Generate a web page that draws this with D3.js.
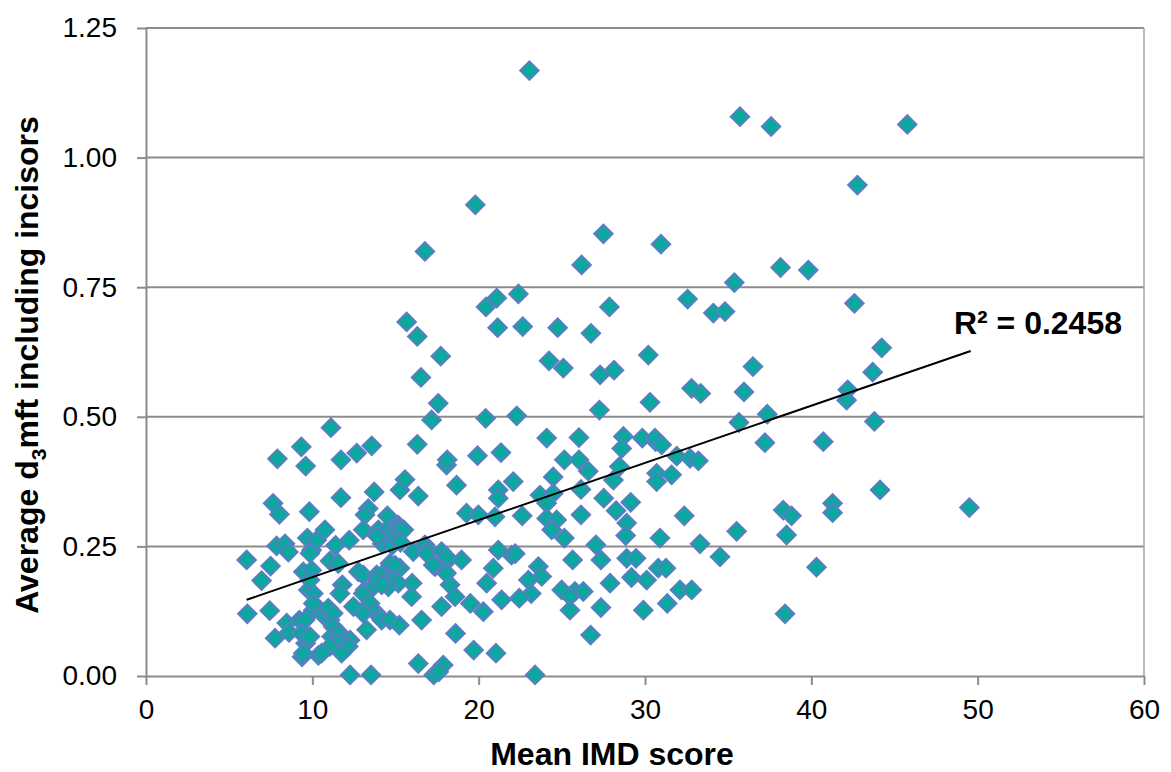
<!DOCTYPE html>
<html>
<head>
<meta charset="utf-8">
<script src="https://cdn.jsdelivr.net/npm/d3@7"></script>
<style>
  body { margin: 0; background: #fff; }
  text { font-family: "Liberation Sans", Arial, sans-serif; }
</style>
</head>
<body>
<script>
'use strict';

// Mean IMD score (x) and average d3mft (y) for each area
const imdScore = [
  9.34, 7.90, 9.60, 7.64, 8.02, 9.82, 7.85, 8.36, 8.56, 6.05, 7.49, 6.95, 6.09, 7.44, 8.46, 8.60,
  7.76, 9.56, 9.60, 9.38, 9.22, 9.70, 9.96, 9.46, 9.76, 10.06, 10.36, 10.26, 9.96, 10.06, 10.46, 9.56,
  9.36, 9.86, 9.46, 10.06, 9.86, 9.86,
  11.12, 13.57, 12.67, 11.72, 13.72, 11.72, 13.36, 13.17, 14.51, 15.27, 15.57, 16.37, 16.31, 15.17,
  13.06, 10.76, 12.22, 13.97, 14.40, 14.80, 15.20, 15.50, 14.10, 14.60, 15.00, 14.20, 14.80, 15.30,
  13.90, 11.40, 11.06, 11.56, 16.07, 16.77, 16.97, 14.67, 15.27, 14.97, 12.77, 13.06, 13.87, 14.17,
  13.87, 14.47, 14.77, 15.17, 16.00, 11.80, 11.66, 13.17, 13.47, 13.06, 14.57, 14.17, 15.97, 12.47,
  13.47, 13.77, 13.06, 14.07, 14.17, 14.67, 15.23, 16.57, 13.26, 10.76, 11.06, 10.96, 11.26, 11.26,
  11.16, 11.66, 11.96, 12.27, 11.46, 11.06, 12.16, 10.56, 11.76, 16.37, 12.27, 13.53,
  17.57, 17.17, 20.42, 19.93, 18.07, 18.11, 18.67, 19.27, 19.98, 16.87, 17.77, 18.17, 18.97, 17.38,
  17.98, 17.27, 18.07, 18.28, 18.58, 19.50, 20.48, 17.77, 20.28, 18.61, 19.70, 17.87, 17.30, 17.60,
  18.07,
  19.80, 16.77, 15.67, 16.31, 17.72, 16.53, 27.50, 30.96, 26.19, 38.15, 39.82, 35.37, 21.09, 22.39,
  20.44, 27.86, 32.56, 34.11, 34.81, 21.14, 22.65, 24.75, 26.75, 30.20, 24.23, 25.09, 27.30, 28.14,
  36.49, 32.80, 33.35, 35.95, 30.30, 23.05, 35.71, 37.58, 45.77, 42.77, 42.59, 44.23, 43.69, 42.19,
  27.26, 22.29, 24.09, 26.03, 28.70, 29.84, 28.60, 30.64, 21.34, 25.15, 26.03, 26.59, 28.46, 28.10,
  24.48, 22.08, 30.70, 30.70, 21.18, 21.18, 26.15, 23.69, 24.48, 24.09, 27.52, 29.14, 28.26, 28.90,
  28.84, 26.15, 22.62, 20.98, 24.09, 24.69, 24.39, 25.15, 30.90, 21.18, 21.98, 22.20, 27.05, 27.35,
  25.65, 28.90, 29.46, 30.80, 20.88, 23.59, 23.79, 22.99, 29.19, 30.10, 27.90, 24.99, 25.79, 26.29,
  23.16, 22.44, 21.38, 25.49, 25.49, 27.35, 29.90, 26.73, 21.04, 23.39,
  35.65, 37.35, 37.21, 40.72, 30.60, 31.00, 31.91, 32.71, 33.21, 31.60, 32.36, 33.31, 35.51, 34.51,
  38.31, 38.81, 38.51, 40.31, 31.26, 32.10, 32.81, 31.34, 38.42,
  42.12, 43.79, 44.13, 41.28, 41.28, 49.50
];

const d3mft = [
  0.442, 0.419, 0.405, 0.333, 0.312, 0.317, 0.251, 0.255, 0.239, 0.224, 0.212, 0.184, 0.120, 0.126, 0.102, 0.084,
  0.073, 0.079, 0.063, 0.037, 0.108, 0.266, 0.243, 0.201, 0.166, 0.127, 0.040, 0.262, 0.204, 0.159, 0.127, 0.108,
  0.082, 0.076, 0.044, 0.140, 0.185, 0.237,
  0.479, 0.444, 0.430, 0.417, 0.355, 0.344, 0.323, 0.311, 0.309, 0.359, 0.379, 0.347, 0.447, 0.291,
  0.282, 0.282, 0.262, 0.282, 0.280, 0.275, 0.285, 0.282, 0.265, 0.268, 0.262, 0.255, 0.252, 0.258,
  0.270, 0.252, 0.222, 0.217, 0.240, 0.253, 0.243, 0.217, 0.208, 0.214, 0.201, 0.195, 0.195, 0.195,
  0.185, 0.182, 0.185, 0.179, 0.179, 0.176, 0.159, 0.166, 0.166, 0.159, 0.172, 0.176, 0.153, 0.134,
  0.140, 0.124, 0.121, 0.114, 0.108, 0.108, 0.098, 0.108, 0.089, 0.114, 0.108, 0.131, 0.121, 0.095,
  0.076, 0.082, 0.069, 0.069, 0.063, 0.057, 0.057, 0.044, 0.044, 0.024, 0.002, 0.002,
  0.526, 0.494, 0.497, 0.425, 0.407, 0.417, 0.368, 0.314, 0.311, 0.237, 0.240, 0.224, 0.224, 0.211,
  0.201, 0.214, 0.230, 0.176, 0.153, 0.140, 0.179, 0.134, 0.124, 0.082, 0.050, 0.021, 0.002, 0.008,
  0.198,
  0.909, 0.819, 0.683, 0.655, 0.617, 0.576, 0.853, 0.833, 0.793, 0.788, 0.783, 0.759, 0.729, 0.737,
  0.712, 0.712, 0.727, 0.700, 0.703, 0.672, 0.674, 0.672, 0.661, 0.619, 0.608, 0.594, 0.581, 0.590,
  0.597, 0.555, 0.545, 0.548, 0.528, 1.168, 1.079, 1.060, 1.064, 0.947, 0.719, 0.633, 0.586, 0.552,
  0.513, 0.502, 0.459, 0.460, 0.462, 0.459, 0.439, 0.452, 0.431, 0.417, 0.417, 0.395, 0.404, 0.378,
  0.384, 0.375, 0.391, 0.375, 0.359, 0.343, 0.360, 0.349, 0.352, 0.333, 0.343, 0.335, 0.319, 0.295,
  0.271, 0.311, 0.309, 0.307, 0.304, 0.301, 0.282, 0.266, 0.266, 0.243, 0.233, 0.236, 0.253, 0.224,
  0.224, 0.227, 0.227, 0.208, 0.208, 0.211, 0.192, 0.185, 0.190, 0.185, 0.179, 0.166, 0.163, 0.163,
  0.159, 0.150, 0.147, 0.154, 0.127, 0.132, 0.127, 0.079, 0.044, 0.002,
  0.489, 0.505, 0.450, 0.452, 0.459, 0.446, 0.424, 0.420, 0.415, 0.388, 0.309, 0.255, 0.279, 0.230,
  0.320, 0.309, 0.272, 0.210, 0.208, 0.166, 0.166, 0.140, 0.120,
  0.532, 0.491, 0.359, 0.333, 0.315, 0.325
];

// linear trend line end points, as drawn in the chart
const trendX = [6.05, 49.58];
const trendY = [0.147, 0.627];
const rSquared = "R² = 0.2458";

const xTicks = [0, 10, 20, 30, 40, 50, 60];
const yTicks = [0, 0.25, 0.5, 0.75, 1.0, 1.25];

window.onload = function() {
  let svg = d3.select('body')
    .append('svg')
    .attr('width', 1171)
    .attr('height', 772);

  svg.append('rect')
    .attr('width', 1171)
    .attr('height', 772)
    .attr('fill', '#fff');

  let xScale = d3.scaleLinear().domain([0, 60]).range([146, 1144]);
  let yScale = d3.scaleLinear().domain([0, 1.25]).range([676, 28]);

  // horizontal gridlines
  svg.append('g')
    .selectAll('line')
    .data(yTicks.filter(d => d > 0))
    .enter()
    .append('line')
      .attr('x1', xScale(0))
      .attr('x2', xScale(60))
      .attr('y1', d => yScale(d))
      .attr('y2', d => yScale(d))
      .attr('stroke', '#8c8c8c')
      .attr('stroke-width', 2);

  // right border of the plot area
  svg.append('line')
    .attr('x1', xScale(60))
    .attr('x2', xScale(60))
    .attr('y1', yScale(0))
    .attr('y2', yScale(1.25))
    .attr('stroke', '#a6a6a6')
    .attr('stroke-width', 1.5);

  // axes
  let xAxis = d3.axisBottom(xScale)
    .tickValues(xTicks)
    .tickFormat(d3.format('d'))
    .tickSizeInner(9)
    .tickSizeOuter(0)
    .tickPadding(14);
  let gx = svg.append('g')
    .attr('transform', 'translate(0,' + yScale(0) + ')')
    .call(xAxis);

  let yAxis = d3.axisLeft(yScale)
    .tickValues(yTicks)
    .tickFormat(d3.format('.2f'))
    .tickSizeInner(9)
    .tickSizeOuter(0)
    .tickPadding(20);
  let gy = svg.append('g')
    .attr('transform', 'translate(' + xScale(0) + ',0)')
    .call(yAxis);

  [gx, gy].forEach(g => {
    g.select('.domain').attr('stroke', '#8c8c8c').attr('stroke-width', 2);
    g.selectAll('.tick line').attr('stroke', '#8c8c8c').attr('stroke-width', 2);
    g.selectAll('.tick text')
      .attr('fill', '#000')
      .style('font-size', '28px')
      .style('font-family', '"Liberation Sans", Arial, sans-serif');
  });

  // points as diamonds
  let points = imdScore.map((x, i) => ({x: x, y: d3mft[i]}));
  let diamond = d3.symbol().type(d3.symbolSquare).size(170);

  svg.append('g')
    .selectAll('path')
    .data(points)
    .enter()
    .append('path')
      .attr('d', diamond)
      .attr('transform', d => 'translate(' + xScale(d.x) + ',' + yScale(d.y) + ') rotate(45)')
      .attr('fill', '#0aa89e')
      .attr('stroke', '#5a7ec2')
      .attr('stroke-width', 2);

  // trend line
  let line = d3.line()
    .x(d => xScale(d[0]))
    .y(d => yScale(d[1]));

  svg.append('path')
    .datum(trendX.map((x, i) => [x, trendY[i]]))
    .attr('d', line)
    .attr('fill', 'none')
    .attr('stroke', '#000')
    .attr('stroke-width', 2);

  svg.append('text')
    .attr('x', 1122)
    .attr('y', 334)
    .attr('text-anchor', 'end')
    .style('font-size', '32px')
    .style('font-weight', 'bold')
    .text(rSquared);

  // axis titles
  svg.append('text')
    .attr('x', 612)
    .attr('y', 765)
    .attr('text-anchor', 'middle')
    .style('font-size', '32px')
    .style('font-weight', 'bold')
    .text('Mean IMD score');

  let yTitle = svg.append('text')
    .attr('transform', 'translate(38, 365) rotate(-90)')
    .attr('text-anchor', 'middle')
    .style('font-size', '32px')
    .style('font-weight', 'bold');
  yTitle.append('tspan').text('Average d');
  yTitle.append('tspan').attr('dy', 8).style('font-size', '21px').text('3');
  yTitle.append('tspan').attr('dy', -8).text('mft including incisors');
};
</script>
</body>
</html>
